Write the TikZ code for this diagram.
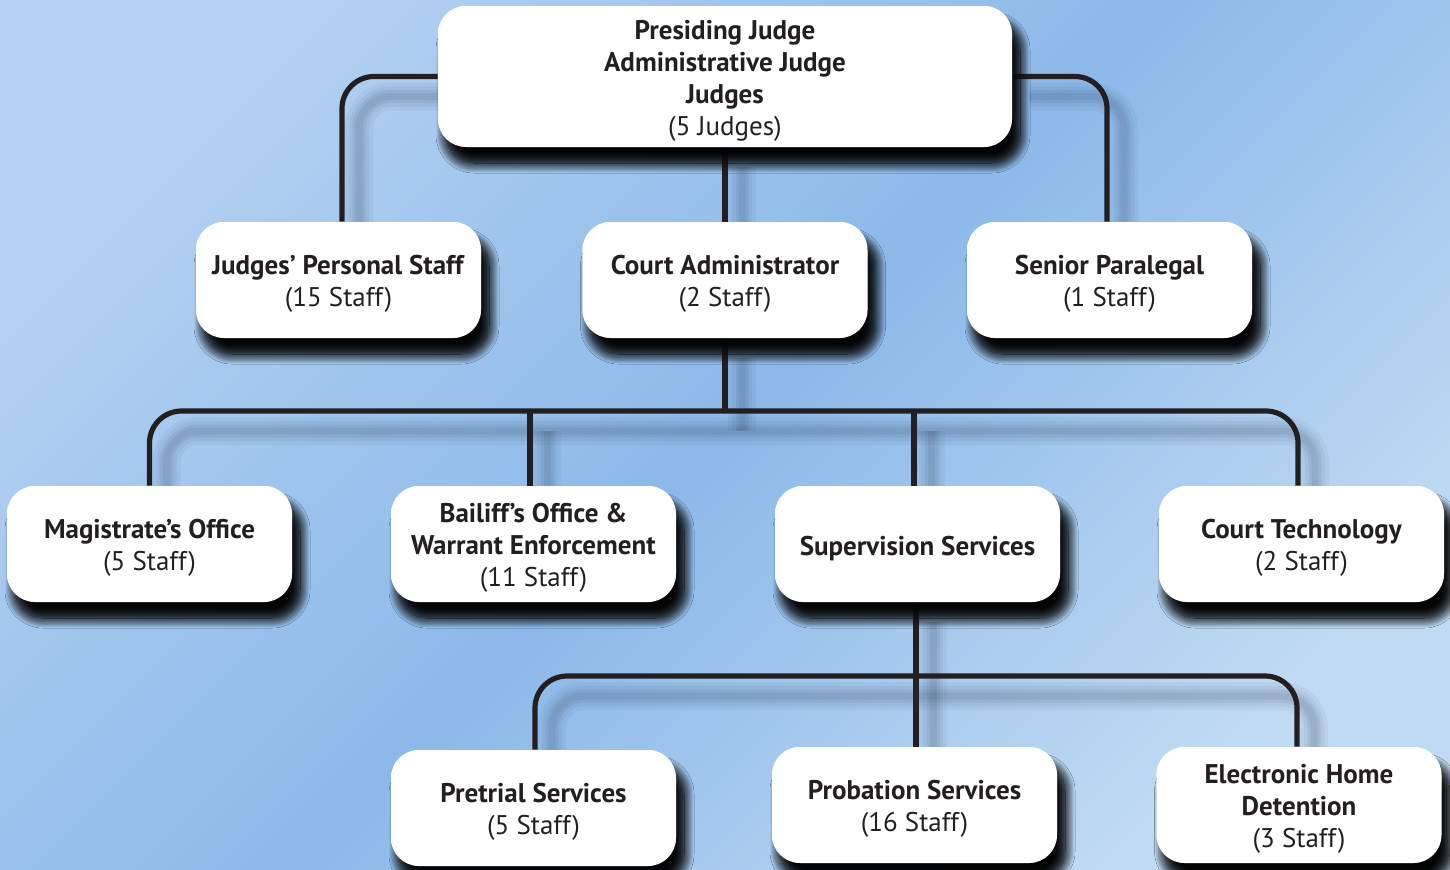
\documentclass[tikz,border=0pt]{standalone}
\usepackage{fontspec}
\setmainfont{PT Sans}
\usetikzlibrary{shadows.blur}
\definecolor{bgA}{RGB}{178,208,241}
\definecolor{bgB}{RGB}{140,185,233}
\definecolor{bgC}{RGB}{192,218,243}
\definecolor{ink}{RGB}{35,31,32}
\definecolor{shd}{RGB}{40,55,80}
\newcommand{\strutA}{\rule{0pt}{13.8pt}}
\tikzset{
  box/.style={draw=none, fill=white, rounded corners=14pt, minimum width=142.5pt, minimum height=58pt,
    align=center, text=ink, inner sep=2pt, font=\fontsize{13.5}{16}\selectfont,
    blur shadow={shadow xshift=4pt, shadow yshift=-8pt, shadow blur radius=5pt, shadow opacity=85, shadow blur steps=16}},
  connshadow/.style={draw=shd, draw opacity=#1, transform canvas={shift={(8.5pt,-10pt)}}},
  conn/.style={draw=ink, line width=2.6pt, rounded corners=16pt,
    preaction={connshadow=0.05, line width=14pt},
    preaction={connshadow=0.06, line width=10pt},
    preaction={connshadow=0.08, line width=6.5pt},
    preaction={connshadow=0.08, line width=3.5pt}},
}
\begin{document}
\begin{tikzpicture}[x=0.5pt,y=-0.5pt]
\useasboundingbox (0,0) rectangle (1450,869);
\shade[top color=bgA, bottom color=bgC, middle color=bgB, shading angle=45] (0,0) rectangle (1450,869);
\coordinate (busA) at (725,411);
\coordinate (busB) at (916,676);
\path
  (725,76.5) node[box, minimum width=287pt, minimum height=70.5pt] (top)
     {\strutA\textbf{Presiding Judge}\\\textbf{Administrative Judge}\\\textbf{Judges}\\(5 Judges)}
  (338.5,280) node[box] (jps) {\strutA\textbf{Judges’ Personal Staff}\\(15 Staff)}
  (725,280) node[box] (ca) {\strutA\textbf{Court Administrator}\\(2 Staff)}
  (1109.5,280) node[box] (sp) {\strutA\textbf{Senior Paralegal}\\(1 Staff)}
  (149.5,544) node[box] (mag) {\strutA\textbf{Magistrate’s Office}\\(5 Staff)}
  (533.5,544) node[box] (bail) {\strutA\textbf{Bailiff’s Office \&}\\\textbf{Warrant Enforcement}\\(11 Staff)}
  (917.5,544) node[box] (sup) {\strutA\textbf{Supervision Services}}
  (1301.5,544) node[box] (tech) {\strutA\textbf{Court Technology}\\(2 Staff)}
  (533.5,808) node[box] (pre) {\strutA\textbf{Pretrial Services}\\(5 Staff)}
  (914.5,805) node[box] (prob) {\strutA\textbf{Probation Services}\\(16 Staff)}
  (1299,805) node[box] (ehd) {\strutA\textbf{Electronic Home}\\\textbf{Detention}\\(3 Staff)};
\draw[conn] (top.west) -| ([xshift=1.75pt]jps.north);
\draw[conn] (top.east) -| ([xshift=-1.25pt]sp.north);
\draw[conn] (top.south) -- (ca.north);
\draw[conn] (ca.south) -- (busA);
\draw[conn] (mag.north) |- (busA) -| ([xshift=-1.75pt]tech.north);
\draw[conn] ([xshift=-1.75pt]bail.north) -- ([xshift=-1.75pt]bail.north |- busA);
\draw[conn] ([xshift=-1.75pt]sup.north) -- ([xshift=-1.75pt]sup.north |- busA);
\draw[conn] ([xshift=-0.75pt]sup.south) -- ([xshift=-0.75pt]sup.south |- prob.north);
\draw[conn] ([xshift=0.75pt]pre.north) |- (busB) -| ([xshift=-1pt]ehd.north);
\path
  (725,76.5) node[box, minimum width=287pt, minimum height=70.5pt]
     {\strutA\textbf{Presiding Judge}\\\textbf{Administrative Judge}\\\textbf{Judges}\\(5 Judges)}
  (338.5,280) node[box] {\strutA\textbf{Judges’ Personal Staff}\\(15 Staff)}
  (725,280) node[box] {\strutA\textbf{Court Administrator}\\(2 Staff)}
  (1109.5,280) node[box] {\strutA\textbf{Senior Paralegal}\\(1 Staff)}
  (149.5,544) node[box] {\strutA\textbf{Magistrate’s Office}\\(5 Staff)}
  (533.5,544) node[box] {\strutA\textbf{Bailiff’s Office \&}\\\textbf{Warrant Enforcement}\\(11 Staff)}
  (917.5,544) node[box] {\strutA\textbf{Supervision Services}}
  (1301.5,544) node[box] {\strutA\textbf{Court Technology}\\(2 Staff)}
  (533.5,808) node[box] {\strutA\textbf{Pretrial Services}\\(5 Staff)}
  (914.5,805) node[box] {\strutA\textbf{Probation Services}\\(16 Staff)}
  (1299,805) node[box] {\strutA\textbf{Electronic Home}\\\textbf{Detention}\\(3 Staff)};
\end{tikzpicture}
\end{document}
